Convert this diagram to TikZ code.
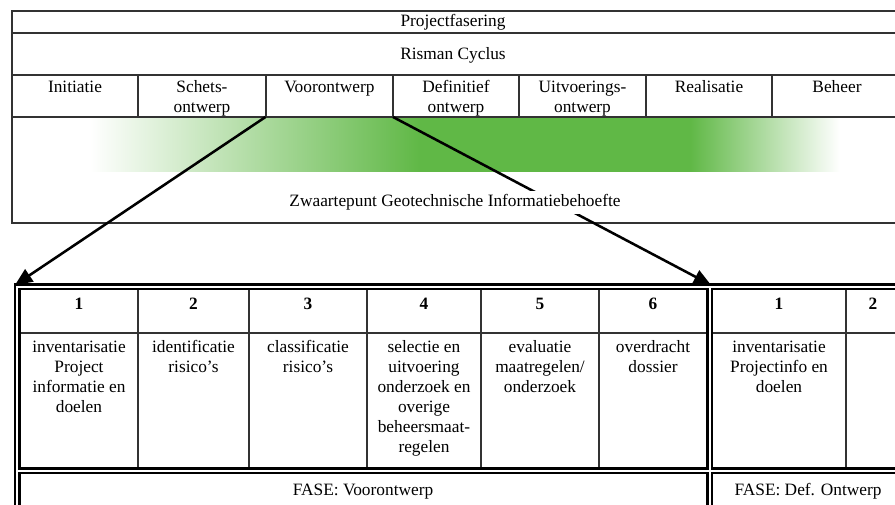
\documentclass[tikz,border=0pt]{standalone}
\usepackage{fontspec}
\setmainfont{Liberation Serif}
\usetikzlibrary{arrows.meta}
\definecolor{mygreen}{RGB}{96,184,70}
\definecolor{linegray}{RGB}{50,50,50}
\begin{document}
\begin{tikzpicture}[x=0.75pt,y=-0.75pt,
  txt/.style={font=\fontsize{13}{15}\selectfont, align=center, inner sep=0pt, anchor=base},
  mtxt/.style={font=\fontsize{13}{15}\selectfont, align=center, inner sep=0pt, anchor=north},
  num/.style={txt, font=\fontsize{13}{15}\selectfont\bfseries},
  grid/.style={draw=linegray, line width=1.2pt},
  thinline/.style={draw=black!80, line width=0.8pt},
  arr/.style={draw=black, line width=1.9pt, -{Triangle[length=13pt,width=11pt]}},
  dblk/.style={draw=black, line width=5.25pt, line join=miter},
  dwht/.style={draw=white, line width=1.5pt, line join=miter}]
\useasboundingbox (0,0) rectangle (895,505);
\clip (0,0) rectangle (895,505);

% green band
\shade[left color=white,right color=mygreen] (90,118) rectangle (420,172);
\fill[mygreen] (419.5,118) rectangle (690.5,172);
\shade[left color=mygreen,right color=white] (690,118) rectangle (840,172);

% top table
\draw[grid] (12,11) rectangle (910,223);
\draw[grid] (12,33) -- (910,33);
\draw[grid] (12,75) -- (910,75);
\draw[grid] (12,117) -- (910,117);
\foreach \x in {138,266,393,519,646,772} \draw[grid] (\x,75) -- (\x,117);

\node[txt] (pf) at (453,27) {Projectfasering};
\node[txt] (rc) at (453,60) {Risman Cyclus};
\node[mtxt] (p1) at (75,78) {\strut Initiatie};
\node[mtxt] (p2) at (202,78) {\strut Schets-\\ontwerp};
\node[mtxt] (p3) at (329.5,78) {\strut Voorontwerp};
\node[mtxt] (p4) at (456,78) {\strut Definitief\\ontwerp};
\node[mtxt] (p5) at (582.5,78) {\strut Uitvoerings-\\ontwerp};
\node[mtxt] (p6) at (709,78) {\strut Realisatie};
\node[mtxt] (p7) at (837,78) {\strut Beheer};

% bottom table thin lines
\draw[thinline] (20,333) -- (707,333);
\draw[thinline] (712,333) -- (910,333);
\foreach \x in {138,249,367,481,599,846} \draw[thinline] (\x,290) -- (\x,467);

% double lines
\draw[dblk] (17,520) -- (17,287) -- (910,287);
\draw[dblk] (17,470.5) -- (910,470.5);
\draw[dblk] (709.5,287) -- (709.5,520);
\draw[dwht] (17,520) -- (17,287) -- (910,287);
\draw[dwht] (17,470.5) -- (910,470.5);
\draw[dwht] (709.5,287) -- (709.5,520);

% arrows
\coordinate (vsw) at (265.5,117);
\coordinate (vse) at (393,117);
\coordinate (btl) at (15,285);
\coordinate (btr) at (711,285);
\draw[arr] (vsw) -- (btl);
\draw[arr] (vse) -- (btr);

\node[txt, fill=white, inner sep=2.5pt] (zw) at (455,207) {Zwaartepunt Geotechnische Informatiebehoefte};

% bottom table text
\node[num] (n1) at (79,310) {1};
\node[num] (n2) at (193.5,310) {2};
\node[num] (n3) at (308,310) {3};
\node[num] (n4) at (424,310) {4};
\node[num] (n5) at (540,310) {5};
\node[num] (n6) at (653,310) {6};
\node[num] (n7) at (779,310) {1};
\node[num] (n8) at (873,310) {2};

\node[mtxt] (c1) at (79,338) {\strut inventarisatie\\Project\\informatie en\\doelen};
\node[mtxt] (c2) at (193.5,338) {\strut identificatie\\risico's};
\node[mtxt] (c3) at (308,338) {\strut classificatie\\risico's};
\node[mtxt] (c4) at (424,338) {\strut selectie en\\uitvoering\\onderzoek en\\overige\\beheersmaat-\\regelen};
\node[mtxt] (c5) at (540,338) {\strut evaluatie\\maatregelen/\\onderzoek};
\node[mtxt] (c6) at (653,338) {\strut overdracht\\dossier};
\node[mtxt] (c7) at (779,338) {\strut inventarisatie\\Projectinfo en\\doelen};

\node[txt] (f1) at (363,495) {FASE: Voorontwerp};
\node[txt] (f2) at (808,495) {FASE: Def. Ontwerp};
\end{tikzpicture}
\end{document}
